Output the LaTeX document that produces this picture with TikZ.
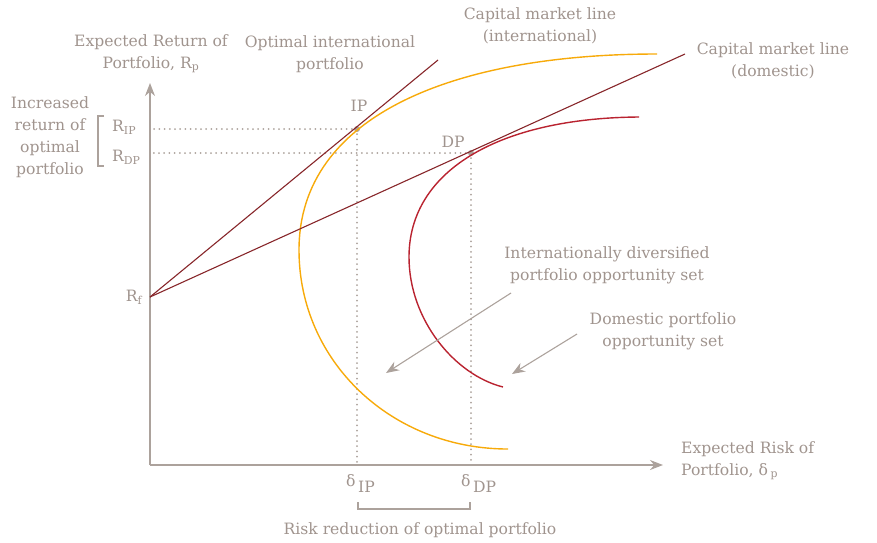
\documentclass[tikz,border=0pt]{standalone}
\usepackage{fontspec}
\setmainfont{DejaVu Serif}
\usetikzlibrary{arrows.meta}
\definecolor{cgray}{RGB}{172,162,156}
\definecolor{ctext}{RGB}{160,148,142}
\definecolor{corange}{RGB}{247,170,10}
\definecolor{cdarkred}{RGB}{135,38,42}
\definecolor{ccrimson}{RGB}{185,35,48}

\begin{document}
\begin{tikzpicture}[x=1pt,y=-1pt,>={Stealth[length=13pt,width=10pt]},
  label node/.style={text=ctext,font=\fontsize{15.6}{22}\selectfont,align=center,inner sep=0pt},
  axis line/.style={cgray,line width=1.3pt,->},
  guide line/.style={cgray,line width=2pt,line cap=round,dash pattern=on 0pt off 5.2pt},
  cml line/.style={cdarkred,line width=1.1pt},
  set curve/.style={line width=1.4pt},
  pointer/.style={cgray,line width=1.1pt,->},
  mark dot/.style={circle,fill=cgray,inner sep=0pt,minimum size=6pt}]
  \useasboundingbox (0,0) rectangle (877,542);

  % axes
  \coordinate (origin) at (150,465);
  \coordinate (ytop) at (150,83);
  \coordinate (xend) at (663,465);
  \draw[axis line] (origin) -- (ytop);
  \draw[axis line] (origin) -- (xend);

  % portfolios and market lines
  \coordinate (rf) at (150,297);
  \coordinate (intlend) at (438,60);
  \coordinate (domend) at (685,54);
  \node[mark dot] (ip) at (357,129) {};
  \node[mark dot] (dp) at (471,153) {};

  \draw[guide line] (ip.center) -- (ip.center -| origin);
  \draw[guide line] (dp.center) -- (dp.center -| origin);
  \draw[guide line] (ip.center) -- (ip.center |- origin);
  \draw[guide line] (dp.center) -- (dp.center |- origin);

  % opportunity sets
  \draw[corange,set curve] (508,449) .. controls (392,449) and (299,362) .. (299,250)
    .. controls (299,115) and (455,54) .. (657,54);
  \draw[ccrimson,set curve] (503,387) .. controls (455,375) and (409,320) .. (409,257)
    .. controls (409,170) and (500,118) .. (639,117);

  \draw[cml line] (rf) -- (intlend);
  \draw[cml line] (rf) -- (domend);

  % brackets
  \draw[cgray,line width=1.1pt] (104,116) -- (98,116) -- (98,166) -- (104,166);
  \draw[cgray,line width=1.1pt] (358,502) -- (358,509) -- (470,509) -- (470,502);

  % pointers
  \coordinate (intltail) at (511,293);
  \coordinate (intltip) at (386,373);
  \coordinate (domtail) at (577,334);
  \coordinate (domtip) at (512,374);
  \draw[pointer] (intltail) -- (intltip);
  \draw[pointer] (domtail) -- (domtip);

  % labels
  \node[label node] (ylabel) at (151,54) {Expected Return of\\Portfolio, R\textsubscript{p}};
  \node[label node] (optlabel) at (330,54) {Optimal international\\portfolio};
  \node[label node] (cmlintl) at (540,26) {Capital market line\\(international)};
  \node[label node] (cmldom) at (773,61) {Capital market line\\(domestic)};
  \node[label node] (incret) at (50,137) {Increased\\return of\\optimal\\portfolio};
  \node[label node,anchor=west] (rip) at (112,127) {R\textsubscript{IP}};
  \node[label node,anchor=west] (rdp) at (112,157) {R\textsubscript{DP}};
  \node[label node] (rflabel) at (134,297) {R\textsubscript{f}};
  \node[label node] (iplabel) at (359,106) {IP};
  \node[label node] (dplabel) at (453,142) {DP};
  \node[label node] (intlset) at (607,265) {Internationally diversified\\portfolio opportunity set};
  \node[label node] (domset) at (663,331) {Domestic portfolio\\opportunity set};
  \node[label node,align=left,anchor=north west] (xlabel) at (681,441) {Expected Risk of\\Portfolio, δ\,\textsubscript{p}};
  \node[label node,anchor=west] (sip) at (346,484) {δ\,\raisebox{-6pt}{IP}};
  \node[label node,anchor=west] (sdp) at (461,484) {δ\,\raisebox{-6pt}{DP}};
  \node[label node] (riskred) at (420,530) {Risk reduction of optimal portfolio};
\end{tikzpicture}
\end{document}
